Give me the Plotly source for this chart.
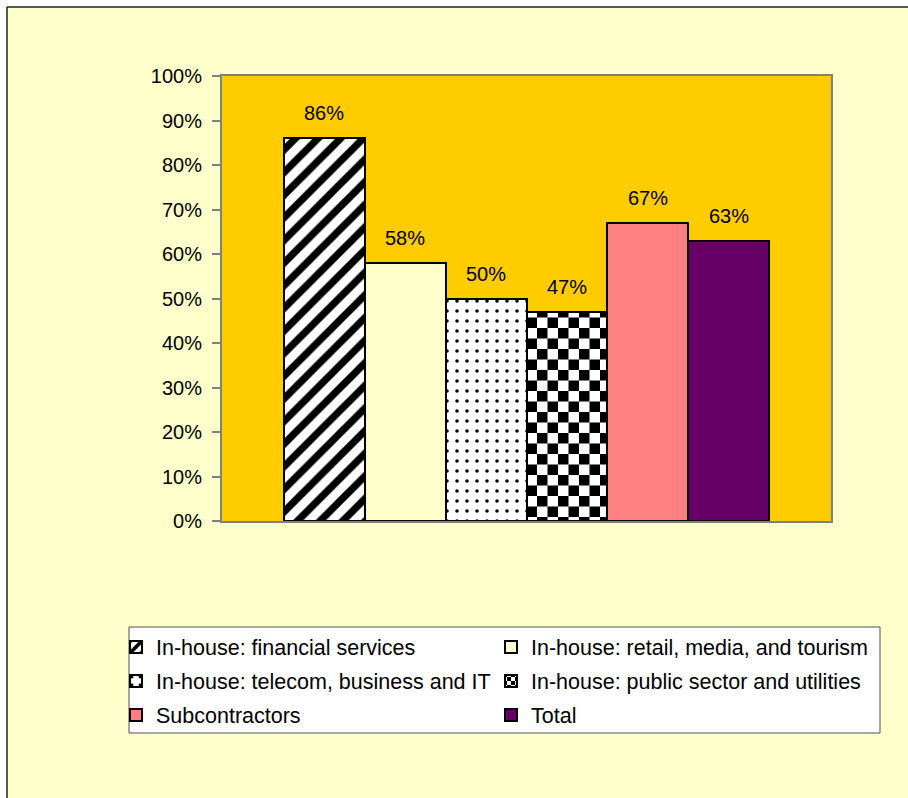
import plotly.graph_objects as go

# Share of respondents per segment
categories = [
    "In-house: financial services",
    "In-house: retail, media, and tourism",
    "In-house: telecom, business and IT",
    "In-house: public sector and utilities",
    "Subcontractors",
    "Total",
]
values = [86, 58, 50, 47, 67, 63]
tick_vals = [0, 10, 20, 30, 40, 50, 60, 70, 80, 90, 100]

FONT = "Arial, Liberation Sans, sans-serif"

styles = [
    dict(color="white", pattern=dict(shape="/", fgcolor="black", bgcolor="white",
                                     fgopacity=1, size=16, solidity=0.45)),
    dict(color="#FFFFCC"),
    dict(color="white", pattern=dict(shape=".", fgcolor="black", bgcolor="white",
                                     fgopacity=1, size=10, solidity=0.1)),
    # checkerboard: pattern tiles are rewritten after render (see post_script)
    dict(color="white", pattern=dict(shape="+", fgcolor="#010101", bgcolor="#fefefe",
                                     fgopacity=1, size=21, solidity=0.5)),
    dict(color="#FF8080"),
    dict(color="#660066"),
]

L, R, T, B = 222, 77, 76, 277
W, H = 908, 798
pw, ph = W - L - R, H - T - B


def px_x(p):
    return (p - L) / pw


def px_y(p):
    return (H - B - p) / ph


# legend grid: two columns, three rows
legend_ids = ["legend", "legend2", "legend3", "legend4", "legend5", "legend6"]
legend_cols = [116, 491]
legend_rows = [647, 681, 715]

fig = go.Figure()
for name, v, st, lg in zip(categories, values, styles, legend_ids):
    fig.add_trace(go.Bar(
        x=[name], y=[v / 100], name=name,
        marker=dict(line=dict(color="black", width=2), **st),
        legend=lg, cliponaxis=False, hoverinfo="skip",
    ))

# value labels above the bars
for name, v in zip(categories, values):
    fig.add_annotation(x=name, y=v / 100, text=f"{v}%", showarrow=False,
                       yanchor="bottom", yshift=12,
                       font=dict(family=FONT, size=20, color="black"))

shapes = [
    # white strips outside the chart frame
    dict(type="rect", xref="paper", yref="paper", x0=px_x(-5), x1=px_x(W + 5),
         y0=px_y(7), y1=px_y(-5), fillcolor="white", line_width=0, layer="below"),
    dict(type="rect", xref="paper", yref="paper", x0=px_x(-5), x1=px_x(7),
         y0=px_y(H + 5), y1=px_y(-5), fillcolor="white", line_width=0, layer="below"),
    # chart frame
    dict(type="line", xref="paper", yref="paper", x0=px_x(7), x1=px_x(W + 5),
         y0=px_y(7), y1=px_y(7), line=dict(color="#202020", width=1.5)),
    dict(type="line", xref="paper", yref="paper", x0=px_x(7), x1=px_x(7),
         y0=px_y(7), y1=px_y(H + 5), line=dict(color="#202020", width=1.5)),
    # legend box
    dict(type="rect", xref="paper", yref="paper", x0=px_x(129), x1=px_x(880),
         y0=px_y(733), y1=px_y(627), fillcolor="white",
         line=dict(color="#505050", width=1), layer="below"),
]

legends = {}
for i, lg in enumerate(legend_ids):
    legends[lg] = dict(
        orientation="h", xanchor="left", yanchor="middle",
        x=px_x(legend_cols[i % 2]), y=px_y(legend_rows[i // 2]),
        itemwidth=30, bgcolor="rgba(0,0,0,0)", borderwidth=0,
        font=dict(family=FONT, size=21.5, color="black"),
    )

fig.update_layout(
    width=W, height=H,
    margin=dict(l=L, r=R, t=T, b=B, pad=0),
    paper_bgcolor="#FFFFCC", plot_bgcolor="#FFCC00",
    barmode="relative", bargap=0,
    showlegend=True,
    xaxis=dict(type="category", categoryorder="array", categoryarray=categories,
               range=[-1.26, 6.26], showticklabels=False, ticks="",
               showline=True, mirror=True, linecolor="#808080", linewidth=2,
               showgrid=False, zeroline=False, layer="below traces"),
    yaxis=dict(range=[0, 1], tickvals=[t / 100 for t in tick_vals],
               ticktext=[f"{t}%" for t in tick_vals],
               ticks="outside", ticklen=8, tickcolor="#808080", tickwidth=1.5,
               showline=True, mirror=True, linecolor="#808080", linewidth=2,
               showgrid=False, zeroline=False, ticklabelstandoff=6,
               tickfont=dict(family=FONT, size=20, color="black")),
    shapes=shapes,
    font=dict(family=FONT, color="black"),
    **legends,
)

checker_js = """
var gd = document.getElementById('{plot_id}');
gd.querySelectorAll('pattern').forEach(function(p){
  if (/rgb\\(1, ?1, ?1\\)|#010101/i.test(p.innerHTML)) {
    var s = parseFloat(p.getAttribute('width')) || 21, h = s / 2;
    p.innerHTML = '<rect width="' + s + '" height="' + s + '" fill="#ffffff"/>' +
      '<rect width="' + h + '" height="' + h + '" fill="#000000"/>' +
      '<rect x="' + h + '" y="' + h + '" width="' + h + '" height="' + h + '" fill="#000000"/>';
  }
});
"""

fig.write_html("out.html", post_script=checker_js)
